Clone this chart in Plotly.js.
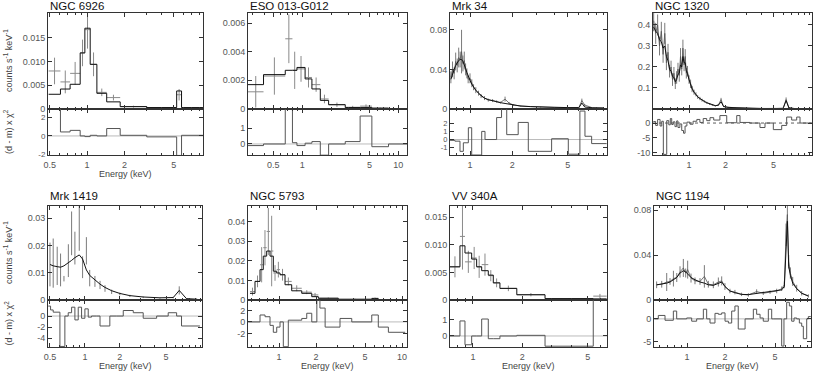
<!DOCTYPE html>
<html>
<head>
<meta charset="utf-8">
<script src="https://cdn.plot.ly/plotly-3.0.1.min.js"></script>
<style>
  body { margin: 0; background: #fff; }
  #chart { width: 830px; height: 373px; }
</style>
</head>
<body>
<div id="chart"></div>
<script>
// ---------- spectra (keV, counts s^-1 keV^-1) ----------

// NGC 6926 : binned, bin edges in keV
var ngc6926_edges = [0.49, 0.61, 0.73, 0.88, 0.96, 1.06, 1.2, 1.44, 1.85, 3.03, 5.28, 5.78, 8.6];
var ngc6926_cts = [0.0080, 0.0057, 0.0075, 0.0118, 0.0167, 0.0094, 0.0035, 0.0024, 0.0005, 0.0003, 0.0030, 0.0002];
var ngc6926_err = [0.0028, 0.0024, 0.0024, 0.0028, 0.0040, 0.0025, 0.0008, 0.0006, 0.0002, 0.0001, 0.0012, 0.0001];
var ngc6926_mod = [0.0031, 0.0042, 0.0052, 0.0118, 0.0170, 0.0094, 0.0033, 0.0015, 0.0005, 0.0003, 0.0038, 0.0003];
var ngc6926_res = [3.0, 0.43, 0.6, 0.0, -0.07, 0.07, 0.0, 0.8, 0.07, -0.1, -2.1, 0.07];

// ESO 013-G012
var eso013_edges = [0.272, 0.395, 0.665, 0.79, 0.88, 1.07, 1.26, 1.54, 1.88, 2.8, 4.0, 5.3, 7.9, 12.3];
var eso013_cts = [0.0012, 0.0023, 0.0049, 0.0027, 0.0028, 0.0022, 0.0017, 0.0007, 0.0003, 0.00012, 0.0002, 0.00005, 0.00003];
var eso013_err = [0.0011, 0.0013, 0.0017, 0.0013, 0.0009, 0.0007, 0.0005, 0.0003, 0.00015, 0.0001, 0.00012, 0.00005, 0.00003];
var eso013_mod = [0.0017, 0.0024, 0.0027, 0.0027, 0.0029, 0.0021, 0.0014, 0.0006, 0.0003, 0.0001, 0.0001, 0.00006, 0.00003];
var eso013_res = [-0.1, 0.0, 2.3, 0.08, -0.1, 0.05, 0.15, -0.7, 0.0, 0.15, 1.75, -0.17, 0.0];

// Mrk 34 : dense spectrum
var mrk34_en = [0.73, 0.75, 0.77, 0.79, 0.81, 0.83, 0.85, 0.87, 0.89, 0.91, 0.93, 0.95, 0.97, 1.0, 1.03, 1.06, 1.1, 1.15, 1.2, 1.27,
                1.35, 1.45, 1.55, 1.65, 1.78, 1.9, 2.05, 2.3, 2.7, 3.2, 4.0, 5.0, 6.0, 6.3, 6.6, 7.5, 9.0];
var mrk34_cts = [0.032, 0.040, 0.036, 0.048, 0.044, 0.052, 0.050, 0.058, 0.046, 0.049, 0.040, 0.036, 0.030, 0.031, 0.026, 0.022, 0.019, 0.016, 0.013, 0.011,
                 0.009, 0.0085, 0.0075, 0.0065, 0.010, 0.006, 0.004, 0.003, 0.0025, 0.0018, 0.0015, 0.0013, 0.0015, 0.0085, 0.004, 0.0012, 0.001];
var mrk34_err = [0.006, 0.008, 0.006, 0.009, 0.007, 0.010, 0.008, 0.022, 0.008, 0.009, 0.006, 0.005, 0.004, 0.005, 0.004, 0.003, 0.003, 0.0025, 0.002, 0.002,
                 0.0015, 0.0015, 0.0012, 0.001, 0.0025, 0.001, 0.0008, 0.0006, 0.0005, 0.0004, 0.0003, 0.0003, 0.0004, 0.002, 0.001, 0.0003, 0.0003];
var mrk34_mod = [0.030, 0.036, 0.040, 0.044, 0.047, 0.049, 0.050, 0.050, 0.048, 0.045, 0.041, 0.037, 0.033, 0.029, 0.025, 0.022, 0.019, 0.016, 0.0135, 0.011,
                 0.0095, 0.0082, 0.0072, 0.0064, 0.0056, 0.0048, 0.004, 0.003, 0.0024, 0.002, 0.0016, 0.0014, 0.0014, 0.006, 0.002, 0.0012, 0.001];
var mrk34_redges = [0.72, 0.78, 0.848, 0.896, 0.973, 1.028, 1.086, 1.212, 1.28, 1.55, 1.68, 1.83, 2.21, 2.61, 3.16, 3.83, 5.04, 6.1, 6.63, 7.4, 9.47];
var mrk34_res = [-0.1, -0.2, -1.45, -0.4, 1.45, -1.9, -1.9, 1.0, 0.0, 2.7, 3.8, 0.6, 2.1, -1.45, -1.45, 0.1, -1.8, 3.5, 0.4, -0.5];

// NGC 1320 : dense spectrum
var ngc1320_en = [0.51, 0.53, 0.55, 0.57, 0.59, 0.61, 0.63, 0.65, 0.67, 0.69, 0.71, 0.73, 0.75, 0.77, 0.79, 0.81, 0.83, 0.85, 0.87, 0.89,
                  0.91, 0.93, 0.95, 0.97, 1.0, 1.03, 1.06, 1.10, 1.14, 1.18, 1.23, 1.28, 1.34, 1.40, 1.48, 1.56, 1.65, 1.75, 1.84, 1.93,
                  2.1, 2.4, 2.8, 3.3, 4.0, 5.0, 6.0, 6.35, 6.7, 7.5, 9.0];
var ngc1320_cts = [0.42, 0.36, 0.40, 0.30, 0.37, 0.26, 0.36, 0.22, 0.27, 0.18, 0.20, 0.14, 0.17, 0.12, 0.15, 0.19, 0.16, 0.25, 0.19, 0.29,
                   0.21, 0.25, 0.17, 0.18, 0.14, 0.12, 0.095, 0.08, 0.07, 0.057, 0.05, 0.042, 0.036, 0.03, 0.023, 0.019, 0.015, 0.02, 0.045, 0.012,
                   0.008, 0.006, 0.004, 0.003, 0.0025, 0.002, 0.003, 0.045, 0.006, 0.002, 0.0015];
var ngc1320_err = [0.05, 0.05, 0.05, 0.045, 0.045, 0.04, 0.05, 0.035, 0.04, 0.03, 0.03, 0.03, 0.03, 0.025, 0.03, 0.03, 0.03, 0.04, 0.03, 0.04,
                   0.03, 0.035, 0.025, 0.025, 0.02, 0.02, 0.015, 0.012, 0.01, 0.009, 0.008, 0.007, 0.006, 0.005, 0.004, 0.004, 0.003, 0.004, 0.008, 0.003,
                   0.002, 0.0015, 0.001, 0.001, 0.0008, 0.0008, 0.001, 0.01, 0.002, 0.0008, 0.0008];
var ngc1320_mod = [0.39, 0.37, 0.36, 0.33, 0.32, 0.29, 0.30, 0.25, 0.23, 0.19, 0.18, 0.155, 0.15, 0.13, 0.14, 0.165, 0.17, 0.21, 0.2, 0.25,
                   0.22, 0.22, 0.18, 0.17, 0.14, 0.115, 0.095, 0.08, 0.068, 0.058, 0.05, 0.042, 0.036, 0.03, 0.024, 0.019, 0.016, 0.018, 0.035, 0.012,
                   0.008, 0.006, 0.004, 0.003, 0.0025, 0.002, 0.003, 0.04, 0.005, 0.002, 0.0015];
var ngc1320_redges = [0.507, 0.53, 0.55, 0.576, 0.595, 0.613, 0.654, 0.68, 0.70, 0.719, 0.74, 0.765, 0.79, 0.81, 0.84, 0.87, 0.90, 0.927, 0.96, 1.02,
                      1.08, 1.16, 1.23, 1.31, 1.40, 1.49, 1.60, 1.80, 2.05, 2.48, 2.64, 3.19, 3.86, 4.25, 4.98, 5.84, 6.42, 7.06, 7.77, 8.28, 10.3];
var ngc1320_res = [0.5, -0.8, 1.2, -1.0, 0.6, -10.5, 0.8, -0.6, 1.5, -0.5, 0.4, -1.2, 0.7, -1.5, -0.3, -2.5, -3.4, -1.0, 0.3, -0.4,
                   0.6, 1.2, 0.2, 1.5, 0.8, 1.8, 1.0, 2.5, 0.1, 2.5, 0.2, 0.0, -1.5, 0.0, -2.2, -0.8, 2.0, 1.0, 2.0, 0.0];

// Mrk 1419
var mrk1419_en = [0.50, 0.533, 0.577, 0.617, 0.66, 0.72, 0.768, 0.82, 0.894, 0.955, 1.03, 1.10, 1.22, 1.35, 1.49, 1.70, 2.0, 2.44, 3.18, 4.43, 5.77, 6.5, 7.5, 9.2];
var mrk1419_cts = [0.013, 0.0135, 0.0125, 0.011, 0.0078, 0.0144, 0.0244, 0.019, 0.027, 0.012, 0.018, 0.008, 0.0068, 0.0055, 0.0042, 0.003, 0.0022, 0.0015, 0.001, 0.0007, 0.0009, 0.0035, 0.0004, 0.0003];
var mrk1419_err = [0.008, 0.009, 0.007, 0.006, 0.001, 0.006, 0.008, 0.006, 0.009, 0.004, 0.005, 0.003, 0.002, 0.0015, 0.0012, 0.0008, 0.0005, 0.0004, 0.0003, 0.0002, 0.0003, 0.0015, 0.0002, 0.0002];
var mrk1419_mod = [0.013, 0.0125, 0.0122, 0.012, 0.0125, 0.0135, 0.0145, 0.0155, 0.0165, 0.015, 0.011, 0.009, 0.0072, 0.0058, 0.0046, 0.0034, 0.0024, 0.0016, 0.0011, 0.0008, 0.0009, 0.0035, 0.0005, 0.0003];
var mrk1419_redges = [0.483, 0.506, 0.533, 0.609, 0.672, 0.718, 0.768, 0.82, 0.876, 0.936, 1.0, 1.068, 1.14, 1.26, 1.35, 1.64, 1.88, 2.14, 2.61, 3.18, 4.15, 5.22, 6.17, 6.8, 9.8];
var mrk1419_res = [1.8, 1.1, 0.7, -5.5, 0.0, 0.6, 1.6, -0.7, 1.6, -0.4, 1.3, -0.2, 0.0, 0.0, -1.8, 0.0, 0.0, 1.0, 0.6, -0.4, 0.0, 0.6, 0.0, -1.8];

// NGC 5793
var ngc5793_edges = [0.581, 0.638, 0.701, 0.745, 0.794, 0.845, 0.899, 0.958, 1.019, 1.119, 1.268, 1.53, 1.845, 2.087, 3.03, 5.67, 6.41, 10.6];
var ngc5793_cts = [0.0043, 0.0095, 0.018, 0.0267, 0.035, 0.025, 0.0138, 0.0155, 0.0129, 0.0095, 0.006, 0.004, 0.0026, 0.0009, 0.0005, 0.0009, 0.0002];
var ngc5793_err = [0.002, 0.003, 0.009, 0.009, 0.012, 0.018, 0.004, 0.004, 0.003, 0.002, 0.0015, 0.001, 0.001, 0.0004, 0.0002, 0.0004, 0.0001];
var ngc5793_mod = [0.0034, 0.0095, 0.0155, 0.0224, 0.025, 0.0224, 0.0147, 0.0138, 0.0129, 0.0078, 0.0047, 0.0034, 0.0017, 0.0009, 0.0003, 0.0007, 0.0002];
var ngc5793_redges = [0.563, 0.701, 0.77, 0.845, 0.899, 0.958, 1.019, 1.084, 1.19, 1.53, 1.68, 1.845, 2.03, 2.15, 2.37, 3.13, 3.9, 5.67, 6.41, 7.74, 10.6];
var ngc5793_res = [0.0, 1.2, 0.9, -0.6, -1.8, -0.9, 0.0, -4.3, 0.3, 0.6, 1.5, 0.0, 3.8, 2.4, -0.9, 0.6, 0.0, 1.2, -0.9, -1.8];

// VV 340A
var vv340a_edges = [0.724, 0.833, 0.894, 0.982, 1.053, 1.13, 1.24, 1.33, 1.46, 1.85, 2.75, 5.41, 6.53];
var vv340a_cts = [0.006, 0.0115, 0.0069, 0.0076, 0.006, 0.0064, 0.0044, 0.0031, 0.0021, 0.00096, 0.0002, 0.0007];
var vv340a_err = [0.0019, 0.006, 0.002, 0.002, 0.002, 0.002, 0.001, 0.0008, 0.0005, 0.0003, 0.0001, 0.0004];
var vv340a_mod = [0.006, 0.0098, 0.0085, 0.0074, 0.006, 0.0053, 0.0045, 0.0031, 0.0021, 0.00095, 0.00025, 0.0002];
var vv340a_res = [0.0, 0.94, -0.55, 0.0, 0.0, 1.06, -0.17, -0.17, 0.0, 0.04, -0.64, 2.3];

// NGC 1194 : dense spectrum
var ngc1194_en = [0.574, 0.63, 0.69, 0.733, 0.78, 0.829, 0.88, 0.935, 0.976, 1.012, 1.076, 1.157, 1.268, 1.373, 1.476, 1.618, 1.773, 1.885, 2.0, 2.19,
                  2.40, 2.71, 3.07, 3.57, 4.03, 4.56, 5.15, 5.64, 5.92, 6.11, 6.26, 6.41, 6.61, 6.9, 7.42, 8.13, 9.18];
var ngc1194_cts = [0.0135, 0.014, 0.016, 0.0165, 0.019, 0.020, 0.025, 0.0285, 0.024, 0.027, 0.0195, 0.017, 0.0165, 0.021, 0.014, 0.0135, 0.016, 0.017, 0.012, 0.008,
                   0.007, 0.005, 0.0045, 0.0075, 0.006, 0.007, 0.008, 0.010, 0.0135, 0.058, 0.076, 0.034, 0.024, 0.0165, 0.0105, 0.006, 0.0036];
var ngc1194_err = [0.003, 0.003, 0.008, 0.003, 0.007, 0.004, 0.005, 0.008, 0.004, 0.008, 0.004, 0.003, 0.003, 0.01, 0.003, 0.003, 0.004, 0.004, 0.003, 0.002,
                   0.002, 0.0015, 0.0015, 0.002, 0.0015, 0.0015, 0.002, 0.002, 0.003, 0.01, 0.012, 0.006, 0.005, 0.004, 0.003, 0.002, 0.0015];
var ngc1194_mod = [0.0135, 0.014, 0.015, 0.016, 0.018, 0.020, 0.024, 0.026, 0.025, 0.023, 0.020, 0.018, 0.016, 0.015, 0.0135, 0.013, 0.015, 0.016, 0.012, 0.008,
                   0.0065, 0.005, 0.0048, 0.0058, 0.0062, 0.007, 0.0078, 0.009, 0.012, 0.045, 0.07, 0.03, 0.022, 0.015, 0.01, 0.006, 0.0035];
var ngc1194_redges = [0.55, 0.592, 0.669, 0.779, 0.828, 0.994, 1.089, 1.193, 1.348, 1.432, 1.522, 1.667, 1.773, 1.884, 2.003, 2.13, 2.262, 2.40, 2.55, 2.89,
                      3.36, 3.57, 3.80, 4.03, 4.42, 4.70, 4.84, 5.64, 5.88, 6.18, 6.49, 6.77, 7.07, 7.42, 7.79, 8.13, 8.38, 8.91, 9.18, 9.6];
var ngc1194_res = [0, 0.75, -0.3, 1.7, 0, 0.2, -0.5, 0, 2.1, 0, -0.9, 1.2, 1.0, 1.3, -0.5, -0.9, 1.7, 2.8, -2.2, 0,
                   2.1, 1.0, 0.2, -0.5, 2.1, 0, 0, -5.9, 0, 3.6, 2.8, -0.5, 0.2, 0, -0.9, -1.6, -4.3, 0, 0.5];

// tick labels
var ngc6926_xticks = ['0.5', '1', '2', '5'];
var ngc6926_yticks = ['0', '0.005', '0.010', '0.015'];
var ngc6926_rticks = ['-2', '0', '2'];
var eso013_xticks = ['0.5', '1', '5', '10'];
var eso013_yticks = ['0', '0.002', '0.004', '0.006'];
var eso013_rticks = ['0', '1'];
var mrk34_xticks = ['1', '2', '5'];
var mrk34_yticks = ['0', '0.04', '0.08'];
var mrk34_rticks = ['-1', '0', '1', '2'];
var ngc1320_xticks = ['1', '2', '5'];
var ngc1320_yticks = ['0.1', '0.2', '0.3', '0.4'];
var ngc1320_rticks = ['-10', '-5', '0'];
var mrk1419_xticks = ['0.5', '1', '2', '5'];
var mrk1419_yticks = ['0', '0.01', '0.02', '0.03'];
var mrk1419_rticks = ['-4', '-2', '0'];
var ngc5793_xticks = ['1', '2', '5', '10'];
var ngc5793_yticks = ['0', '0.01', '0.02', '0.03', '0.04'];
var ngc5793_rticks = ['-2', '0', '2'];
var vv340a_xticks = ['1', '2', '5'];
var vv340a_yticks = ['0', '0.005', '0.010', '0.015'];
var vv340a_rticks = ['0', '1'];
var ngc1194_xticks = ['1', '2', '5'];
var ngc1194_yticks = ['0', '0.04', '0.08'];
var ngc1194_rticks = ['-5', '0'];

// ---------- layout of the 8 panels (pixel boxes) ----------
var W = 830, H = 373;
var rows = [{top: 13, mid: 109, bot: 155, title: 6, elab: 174},
            {top: 206, mid: 300, bot: 347, title: 196, elab: 366}];

var panels = [
  {title: 'NGC 6926', row: 0, left: 48, right: 203, xr: [-0.315, 0.935], yr: [0, 0.0202], rr: [-2.05, 2.9], kind: 'bins',
   edges: ngc6926_edges, cts: ngc6926_cts, err: ngc6926_err, mod: ngc6926_mod, redges: ngc6926_edges, res: ngc6926_res,
   xt: ngc6926_xticks, yt: ngc6926_yticks, rt: ngc6926_rticks, ylab: true, elab: true, rfont: 8},
  {title: 'ESO 013-G012', row: 0, left: 248, right: 407, xr: [-0.565, 1.09], yr: [0, 0.0067], rr: [-0.69, 2.19], kind: 'bins',
   edges: eso013_edges, cts: eso013_cts, err: eso013_err, mod: eso013_mod, redges: eso013_edges, res: eso013_res,
   xt: eso013_xticks, yt: eso013_yticks, rt: eso013_rticks},
  {title: 'Mrk 34', row: 0, left: 450, right: 607, xr: [-0.143, 0.979], yr: [0, 0.097], rr: [-1.9, 3.75], kind: 'dense',
   en: mrk34_en, cts: mrk34_cts, err: mrk34_err, mod: mrk34_mod, redges: mrk34_redges, res: mrk34_res,
   xt: mrk34_xticks, yt: mrk34_yticks, rt: mrk34_rticks, rfont: 7.5},
  {title: 'NGC 1320', row: 0, left: 653, right: 812, xr: [-0.298, 1.017], yr: [0, 0.457], rr: [-10.7, 4.7], kind: 'dense',
   en: ngc1320_en, cts: ngc1320_cts, err: ngc1320_err, mod: ngc1320_mod, redges: ngc1320_redges, res: ngc1320_res,
   xt: ngc1320_xticks, yt: ngc1320_yticks, rt: ngc1320_rticks, zdash: true},
  {title: 'Mrk 1419', row: 1, left: 48, right: 202, xr: [-0.318, 1.009], yr: [0, 0.0344], rr: [-5.6, 2.9], kind: 'points',
   en: mrk1419_en, cts: mrk1419_cts, err: mrk1419_err, mod: mrk1419_mod, redges: mrk1419_redges, res: mrk1419_res,
   xt: mrk1419_xticks, yt: mrk1419_yticks, rt: mrk1419_rticks, ylab: true, elab: true},
  {title: 'NGC 5793', row: 1, left: 248, right: 407, xr: [-0.252, 1.04], yr: [0, 0.048], rr: [-4.35, 3.8], kind: 'bins',
   edges: ngc5793_edges, cts: ngc5793_cts, err: ngc5793_err, mod: ngc5793_mod, redges: ngc5793_redges, res: ngc5793_res,
   xt: ngc5793_xticks, yt: ngc5793_yticks, rt: ngc5793_rticks, elab: true},
  {title: 'VV 340A', row: 1, left: 450, right: 607, xr: [-0.14, 0.817], yr: [0, 0.017], rr: [-0.69, 2.25], kind: 'bins',
   edges: vv340a_edges, cts: vv340a_cts, err: vv340a_err, mod: vv340a_mod, redges: vv340a_edges, res: vv340a_res,
   xt: vv340a_xticks, yt: vv340a_yticks, rt: vv340a_rticks, elab: true},
  {title: 'NGC 1194', row: 1, left: 654, right: 811, xr: [-0.262, 0.984], yr: [0, 0.0836], rr: [-6.1, 4.1], kind: 'dense',
   en: ngc1194_en, cts: ngc1194_cts, err: ngc1194_err, mod: ngc1194_mod, redges: ngc1194_redges, res: ngc1194_res,
   xt: ngc1194_xticks, yt: ngc1194_yticks, rt: ngc1194_rticks, elab: true}
];

var FONT = 'Liberation Sans, Arial, sans-serif';
var AXC = '#333';

function sfx(n) { return n === 1 ? '' : String(n); }
function nums(a) { return a.map(Number); }
function lastRepeat(v) { return v.concat([v[v.length - 1]]); }

var data = [];
var layout = {
  width: W, height: H,
  margin: {l: 0, r: 0, t: 0, b: 0},
  paper_bgcolor: '#fff', plot_bgcolor: '#fff',
  showlegend: false,
  font: {family: FONT, size: 9, color: '#555'},
  shapes: [], annotations: []
};

panels.forEach(function (p, i) {
  var r = rows[p.row];
  var nTop = 2 * i + 1, nRes = 2 * i + 2;
  var xa = 'x' + sfx(nTop), ya = 'y' + sfx(nTop);
  var xb = 'x' + sfx(nRes), yb = 'y' + sfx(nRes);
  var xdom = [p.left / W, p.right / W];

  var axBase = {
    showline: true, linecolor: AXC, linewidth: 1, mirror: 'ticks',
    ticks: 'inside', ticklen: 4, tickcolor: AXC, tickwidth: 1,
    showgrid: false, zeroline: false, automargin: false,
    tickfont: {family: FONT, size: 9, color: '#555'}
  };

  layout['xaxis' + sfx(nTop)] = Object.assign({}, axBase, {
    type: 'log', range: p.xr, domain: xdom, anchor: ya,
    tickmode: 'array', tickvals: nums(p.xt), showticklabels: false,
    minor: {ticks: 'inside', ticklen: 2, tickcolor: AXC, dtick: 'D1'}
  });
  layout['xaxis' + sfx(nRes)] = Object.assign({}, axBase, {
    type: 'log', range: p.xr, domain: xdom, anchor: yb, matches: xa,
    tickmode: 'array', tickvals: nums(p.xt), ticktext: p.xt, ticklabelstandoff: 1,
    minor: {ticks: 'inside', ticklen: 2, tickcolor: AXC, dtick: 'D1'}
  });
  layout['yaxis' + sfx(nTop)] = Object.assign({}, axBase, {
    range: p.yr, domain: [1 - r.mid / H, 1 - r.top / H], anchor: xa,
    tickmode: 'array', tickvals: nums(p.yt), ticktext: p.yt
  });
  layout['yaxis' + sfx(nRes)] = Object.assign({}, axBase, {
    range: p.rr, domain: [1 - r.bot / H, 1 - r.mid / H], anchor: xb,
    tickmode: 'array', tickvals: nums(p.rt), ticktext: p.rt,
    tickfont: {family: FONT, size: p.rfont || 9, color: '#555'}
  });

  // spectrum + model
  if (p.kind === 'bins') {
    var cen = [], ep = [], em = [];
    for (var k = 0; k < p.cts.length; k++) {
      var c = Math.sqrt(p.edges[k] * p.edges[k + 1]);
      cen.push(c); ep.push(p.edges[k + 1] - c); em.push(c - p.edges[k]);
    }
    data.push({
      x: cen, y: p.cts, xaxis: xa, yaxis: ya, type: 'scatter', mode: 'markers',
      marker: {size: 1, color: 'rgba(0,0,0,0)'},
      error_y: {type: 'data', array: p.err, color: '#8a8a8a', thickness: 1, width: 0},
      error_x: {type: 'data', symmetric: false, array: ep, arrayminus: em, color: '#8a8a8a', thickness: 1, width: 0},
      hoverinfo: 'skip'
    });
    data.push({
      x: p.edges, y: lastRepeat(p.mod), xaxis: xa, yaxis: ya, type: 'scatter', mode: 'lines',
      line: {shape: 'hv', color: '#111', width: 1}, hoverinfo: 'skip'
    });
  } else {
    data.push({
      x: p.en, y: p.cts, xaxis: xa, yaxis: ya, type: 'scatter',
      mode: p.kind === 'dense' ? 'lines' : 'markers',
      line: {color: '#555', width: 0.8},
      marker: {size: 1, color: 'rgba(0,0,0,0)'},
      error_y: {type: 'data', array: p.err, color: '#7a7a7a', thickness: 1, width: 0},
      hoverinfo: 'skip'
    });
    data.push({
      x: p.en, y: p.mod, xaxis: xa, yaxis: ya, type: 'scatter', mode: 'lines',
      line: {color: '#111', width: 1}, hoverinfo: 'skip'
    });
  }

  // residuals
  data.push({
    x: p.redges, y: lastRepeat(p.res), xaxis: xb, yaxis: yb, type: 'scatter', mode: 'lines',
    line: {shape: 'hv', color: '#555', width: 1}, hoverinfo: 'skip'
  });
  layout.shapes.push({
    type: 'line', xref: xb + ' domain', yref: yb, x0: 0, x1: 1, y0: 0, y1: 0,
    line: {color: p.zdash ? '#333' : '#aaa', width: 0.8, dash: p.zdash ? 'dot' : 'solid'}, layer: 'below'
  });

  // panel title
  layout.annotations.push({
    xref: 'paper', yref: 'paper', x: p.left / W, y: 1 - r.title / H,
    xanchor: 'left', yanchor: 'middle', showarrow: false,
    text: p.title, font: {family: FONT, size: 11.5, color: '#111'}
  });
  if (p.elab) {
    layout.annotations.push({
      xref: 'paper', yref: 'paper', x: (p.left + p.right) / 2 / W, y: 1 - r.elab / H,
      xanchor: 'center', yanchor: 'middle', showarrow: false,
      text: 'Energy (keV)', font: {family: FONT, size: 9, color: '#444'}
    });
  }
  if (p.ylab) {
    layout.annotations.push({
      xref: 'paper', yref: 'paper', x: 8 / W, y: 1 - (r.top + r.mid) / 2 / H,
      xanchor: 'center', yanchor: 'middle', showarrow: false, textangle: -90,
      text: 'counts s<sup>-1</sup> keV<sup>-1</sup>', font: {family: FONT, size: 9, color: '#444'}
    });
    layout.annotations.push({
      xref: 'paper', yref: 'paper', x: 8 / W, y: 1 - (r.mid + r.bot) / 2 / H,
      xanchor: 'center', yanchor: 'middle', showarrow: false, textangle: -90,
      text: '(d - m) x χ<sup>2</sup>', font: {family: FONT, size: 9, color: '#444'}
    });
  }
});

Plotly.newPlot('chart', data, layout, {staticPlot: true, displayModeBar: false});
</script>
</body>
</html>
